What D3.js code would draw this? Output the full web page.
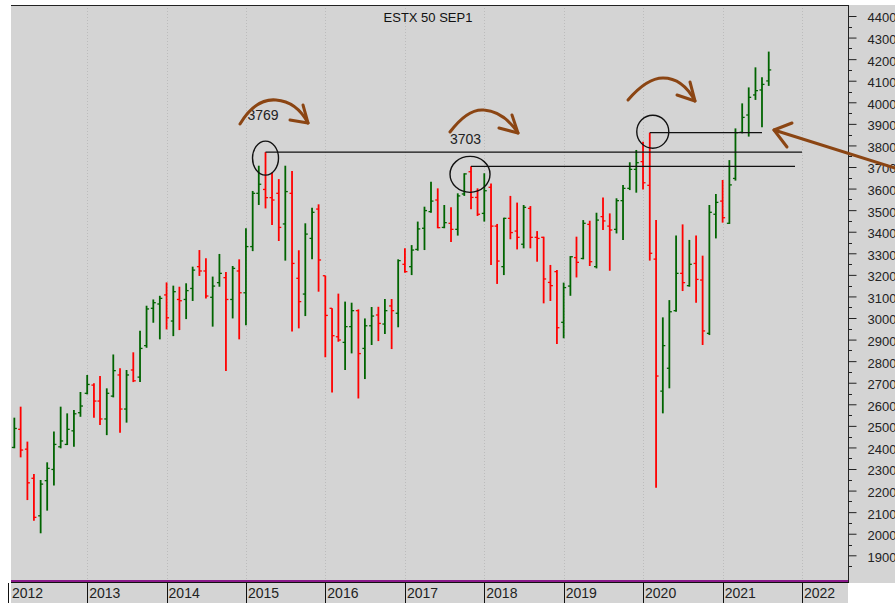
<!DOCTYPE html>
<html>
<head>
<meta charset="utf-8">
<script src="https://cdn.jsdelivr.net/npm/d3@7"></script>
<style>
  body { margin: 0; background: #fff; }
  svg { display: block; font-family: "Liberation Sans", Arial, sans-serif; }
</style>
</head>
<body>
<script>
let w = 895;
let h = 603;

// monthly bars, Feb 2012 .. Aug 2021
let firstMonth = "2012-02";
let opens = [2400, 2484, 2392, 2257, 2083, 2246, 2298, 2403, 2414, 2477, 2561,
             2651, 2689, 2615, 2532, 2638, 2736, 2578, 2759, 2726, 2872, 3045, 3065,
             3107, 2986, 3086, 3086, 3137, 3238, 3218, 3096, 3164, 3187, 3086, 3218,
             3117, 3331, 3578, 3596, 3558, 3578, 3436, 3578, 3184, 3111, 3369, 3505,
             3196, 3045, 2913, 2887, 2960, 3034, 2859, 2964, 3014, 2972, 3056, 3022,
             3249, 3238, 3318, 3416, 3493, 3547, 3420, 3439, 3411, 3575, 3678, 3559,
             3485, 3606, 3426, 3238, 3462, 3403, 3342, 3508, 3374, 3374, 3165, 3215,
             2980, 3148, 3280, 3276, 3434, 3238, 3470, 3426, 3411, 3544, 3601, 3689,
             3725, 3615, 3273, 2661, 2767, 3034, 3207, 3150, 3253, 3176, 2929, 3481,
             3542, 3439, 3647, 3861, 3941, 4034, 4057, 4099];
let highs = [2538, 2589, 2427, 2277, 2249, 2331, 2474, 2589, 2558, 2573, 2657,
             2736, 2697, 2731, 2674, 2831, 2767, 2759, 2841, 2941, 3057, 3086, 3103,
             3165, 3150, 3145, 3161, 3238, 3315, 3277, 3192, 3297, 3213, 3241, 3272,
             3416, 3589, 3706, 3769, 3674, 3644, 3706, 3681, 3314, 3439, 3511, 3527,
             3196, 3045, 3113, 3076, 3071, 3040, 2998, 3051, 3052, 3088, 3088, 3272,
             3323, 3338, 3447, 3516, 3632, 3601, 3524, 3513, 3578, 3671, 3703, 3601,
             3671, 3624, 3436, 3465, 3566, 3535, 3524, 3519, 3403, 3377, 3246, 3222,
             3164, 3287, 3377, 3454, 3451, 3488, 3559, 3485, 3555, 3617, 3722, 3779,
             3817, 3859, 3454, 3003, 3083, 3382, 3434, 3362, 3382, 3289, 3524, 3575,
             3640, 3732, 3879, 3995, 4069, 4162, 4116, 4235];
let lows = [2396, 2354, 2156, 2060, 2002, 2107, 2223, 2396, 2411, 2403, 2542,
            2646, 2538, 2504, 2457, 2632, 2468, 2515, 2703, 2703, 2862, 2978, 2901,
            2947, 2916, 2944, 2995, 3079, 3195, 3091, 2960, 3145, 2754, 2998, 2901,
            2967, 3310, 3524, 3508, 3431, 3357, 3266, 2937, 2952, 3009, 3272, 3122,
            2818, 2655, 2890, 2759, 2836, 2627, 2717, 2875, 2893, 2926, 2856, 2957,
            3210, 3199, 3312, 3315, 3488, 3416, 3416, 3352, 3382, 3566, 3504, 3473,
            3447, 3246, 3158, 3199, 3365, 3318, 3323, 3323, 3261, 3068, 3079, 2879,
            2906, 3103, 3188, 3272, 3241, 3230, 3408, 3219, 3392, 3362, 3593, 3581,
            3596, 3266, 2213, 2558, 2674, 3029, 3125, 3145, 3071, 2875, 2921, 3369,
            3442, 3436, 3637, 3856, 3841, 4011, 3884, 4076];
let closes = [2488, 2388, 2236, 2076, 2230, 2303, 2414, 2430, 2484, 2556, 2592,
              2692, 2615, 2532, 2651, 2756, 2578, 2736, 2709, 2859, 3042, 3071, 3091,
              3001, 3122, 3080, 3127, 3222, 3218, 3102, 3148, 3207, 3086, 3230, 3117,
              3331, 3578, 3620, 3558, 3547, 3420, 3586, 3253, 3076, 3389, 3490, 3269,
              3012, 2918, 2898, 2960, 3034, 2835, 2964, 3009, 2975, 3034, 3034, 3266,
              3215, 3315, 3413, 3498, 3542, 3419, 3442, 3411, 3566, 3668, 3559, 3481,
              3590, 3426, 3264, 3462, 3396, 3374, 3513, 3374, 3369, 3181, 3150, 2955,
              3141, 3284, 3258, 3439, 3261, 3454, 3450, 3408, 3544, 3601, 3689, 3720,
              3627, 3300, 2731, 2872, 3029, 3207, 3164, 3249, 3179, 2940, 3490, 3536,
              3465, 3617, 3859, 3930, 4023, 4054, 4083, 4150];

let years = d3.range(2012, 2023);
let priceTicks = d3.range(1900, 4401, 100);
let title = "ESTX 50 SEP1";

// marked highs: [month, line ends at x]
let marks = [["2015-04", 802], ["2017-11", 795], ["2020-02", 762]];

let parseMonth = d3.timeParse("%Y-%m");
let start = parseMonth(firstMonth);
let bars = opens.map(function(o, i) {
    return {date: d3.timeMonth.offset(start, i), o: o, h: highs[i], l: lows[i], c: closes[i]};
});

let pL = 11, pT = 5, pR = 848, pB = 583;

let xScale = d3.scaleTime()
               .domain([new Date(2012, 0, 1), new Date(2022, 0, 1)])
               .range([7.6, 802]);
let yScale = d3.scaleLinear()
               .domain([1900, 4400])
               .range([555.3, 16]);

let svg = d3.select("body")
            .append("svg")
            .attr("width", w)
            .attr("height", h);

svg.append("rect").attr("x", pL).attr("y", pT)
   .attr("width", w - pL).attr("height", pB - pT)
   .attr("fill", "#d4d4d4");
svg.append("rect").attr("x", pL).attr("y", pB)
   .attr("width", pR - pL).attr("height", h - pB)
   .attr("fill", "#d4d4d4");

svg.append("clipPath").attr("id", "plot")
   .append("rect").attr("x", pL).attr("y", pT)
   .attr("width", pR - pL).attr("height", pB - pT);

// year grid
svg.append("g")
   .selectAll("line")
   .data(years.slice(1))
   .enter()
   .append("line")
   .attr("x1", function(d) { return Math.round(xScale(new Date(d, 0, 1))) + 0.5; })
   .attr("x2", function(d) { return Math.round(xScale(new Date(d, 0, 1))) + 0.5; })
   .attr("y1", pT)
   .attr("y2", pB - 3)
   .attr("stroke", "#bcbcbc")
   .attr("stroke-dasharray", "1,2");

// frame
svg.append("line").attr("x1", pL).attr("x2", pR).attr("y1", pT + 0.5).attr("y2", pT + 0.5)
   .attr("stroke", "#222").attr("stroke-width", 1);
svg.append("line").attr("x1", pR + 0.5).attr("x2", pR + 0.5).attr("y1", pT).attr("y2", pB)
   .attr("stroke", "#222").attr("stroke-width", 1);
svg.append("line").attr("x1", pL).attr("x2", pR).attr("y1", 581).attr("y2", 581)
   .attr("stroke", "#8a1a8a").attr("stroke-width", 2);
svg.append("line").attr("x1", pL).attr("x2", pR + 1).attr("y1", 582.5).attr("y2", 582.5)
   .attr("stroke", "#111").attr("stroke-width", 1);

// price axis
let yAxis = d3.axisRight(yScale)
              .tickValues(priceTicks)
              .tickSize(8)
              .tickPadding(11)
              .tickFormat(d3.format("d"));
let ax = svg.append("g")
            .attr("transform", "translate(" + (pR + 0.5) + ",0)")
            .call(yAxis);
ax.select(".domain").remove();
ax.selectAll("line").attr("stroke", "#222");
ax.selectAll("text")
  .attr("dy", "0.45em")
  .attr("fill", "#222")
  .attr("font-size", "13px")
  .attr("font-family", "Liberation Sans, Arial, sans-serif");
svg.append("g")
   .selectAll("line")
   .data(d3.range(1850, 4400, 100))
   .enter()
   .append("line")
   .attr("x1", pR)
   .attr("x2", pR + 4)
   .attr("y1", function(d) { return Math.round(yScale(d)) + 0.5; })
   .attr("y2", function(d) { return Math.round(yScale(d)) + 0.5; })
   .attr("stroke", "#222");

// year axis
let xg = svg.append("g");
xg.selectAll("line")
  .data(years)
  .enter()
  .append("line")
  .attr("x1", function(d) { return Math.round(xScale(new Date(d, 0, 1))) + 0.5; })
  .attr("x2", function(d) { return Math.round(xScale(new Date(d, 0, 1))) + 0.5; })
  .attr("y1", pB)
  .attr("y2", h)
  .attr("stroke", "#111");
xg.selectAll("text")
  .data(years)
  .enter()
  .append("text")
  .text(function(d) { return d; })
  .attr("x", function(d) { return Math.max(pL + 1, xScale(new Date(d, 0, 1)) + 2); })
  .attr("y", 598)
  .attr("font-size", "14px")
  .attr("fill", "#222");

svg.append("text")
   .text(title)
   .attr("x", 428)
   .attr("y", 22)
   .attr("text-anchor", "middle")
   .attr("font-size", "13px")
   .attr("fill", "#111");

// bars
let plot = svg.append("g").attr("clip-path", "url(#plot)");
let colorOf = function(d) { return d.c >= d.o ? "#006400" : "#ff0000"; };
let barG = plot.selectAll("g.bar")
               .data(bars)
               .enter()
               .append("g")
               .attr("class", "bar");
barG.append("line")
    .attr("x1", function(d) { return xScale(d.date); })
    .attr("x2", function(d) { return xScale(d.date); })
    .attr("y1", function(d) { return yScale(d.h); })
    .attr("y2", function(d) { return yScale(d.l); })
    .attr("stroke", colorOf)
    .attr("stroke-width", 1.8);
barG.append("line")
    .attr("x1", function(d) { return xScale(d.date) - 2.5; })
    .attr("x2", function(d) { return xScale(d.date); })
    .attr("y1", function(d) { return yScale(d.o); })
    .attr("y2", function(d) { return yScale(d.o); })
    .attr("stroke", colorOf)
    .attr("stroke-width", 1.3);
barG.append("line")
    .attr("x1", function(d) { return xScale(d.date); })
    .attr("x2", function(d) { return xScale(d.date) + 2.5; })
    .attr("y1", function(d) { return yScale(d.c); })
    .attr("y2", function(d) { return yScale(d.c); })
    .attr("stroke", colorOf)
    .attr("stroke-width", 1.3);

// marked highs: line to the right + circle
let fmtMonth = d3.timeFormat("%Y-%m");
let markData = marks.map(function(m) {
    let d = bars.find(function(b) { return fmtMonth(b.date) === m[0]; });
    return {x: xScale(d.date), y: yScale(d.h), end: m[1], date: m[0]};
});
let ell = {"2015-04": [0, 6, 13, 17], "2017-11": [-1, 8, 20, 18], "2020-02": [3, -1, 16, 16.5]};
plot.selectAll("line.mark")
    .data(markData)
    .enter()
    .append("line")
    .attr("class", "mark")
    .attr("x1", function(d) { return d.x; })
    .attr("x2", function(d) { return d.end; })
    .attr("y1", function(d) { return d.y; })
    .attr("y2", function(d) { return d.y; })
    .attr("stroke", "#111")
    .attr("stroke-width", 1.2);
plot.selectAll("ellipse")
    .data(markData)
    .enter()
    .append("ellipse")
    .attr("cx", function(d) { return d.x + ell[d.date][0]; })
    .attr("cy", function(d) { return d.y + ell[d.date][1]; })
    .attr("rx", function(d) { return ell[d.date][2]; })
    .attr("ry", function(d) { return ell[d.date][3]; })
    .attr("fill", "none")
    .attr("stroke", "#111")
    .attr("stroke-width", 1.4);

// hand-drawn notes
svg.append("text").text("3769").attr("x", 247.5).attr("y", 120)
   .attr("font-size", "14px").attr("fill", "#222");
svg.append("text").text("3703").attr("x", 450).attr("y", 144)
   .attr("font-size", "14px").attr("fill", "#222");

let brown = "#8b4513";
let notes = [
    "M240,124 C252,104 265,99 276,100 C290,101 301,110 308,123",
    "M303,105 L308,123 L290,120",
    "M450,132 C462,116 474,109 484,110 C498,111 510,121 518,133",
    "M512,115 L518,133 L499,128",
    "M628,100 C640,86 651,78 663,78 C677,78 688,88 695,101",
    "M690,82 L695,101 L677,95",
    "M895,168 L774,130",
    "M792,123 L774,130 L787,147"
];
svg.selectAll("path.note")
   .data(notes)
   .enter()
   .append("path")
   .attr("class", "note")
   .attr("d", function(d) { return d; })
   .attr("fill", "none")
   .attr("stroke", brown)
   .attr("stroke-width", 3)
   .attr("stroke-linecap", "round")
   .attr("stroke-linejoin", "round");
</script>
</body>
</html>
